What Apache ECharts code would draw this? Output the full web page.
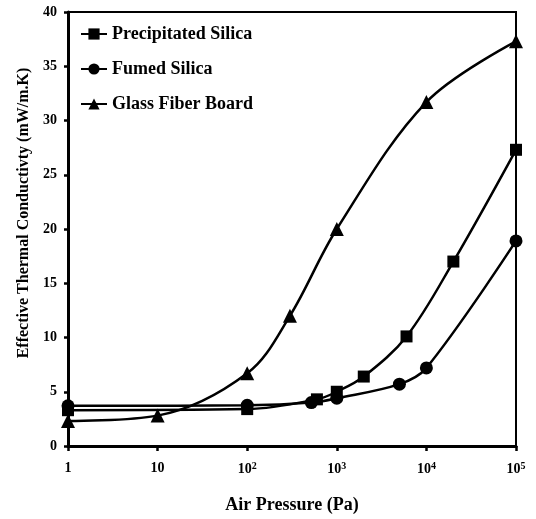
<!DOCTYPE html>
<html><head><meta charset="utf-8">
<script src="https://cdn.jsdelivr.net/npm/echarts@6/dist/echarts.min.js"></script>
<style>html,body{margin:0;padding:0;background:#fff}#c{width:536px;height:519px}</style>
</head><body><div id="c"></div>
<script>
const seriesNames = ['Precipitated Silica', 'Fumed Silica', 'Glass Fiber Board'];
const precipPressure = [1, 100, 600, 1000, 2000, 6000, 20000, 100000];
const precipK = [3.3, 3.4, 4.3, 5.0, 6.4, 10.1, 17.0, 27.3];
const fumedPressure = [1, 100, 520, 1000, 5000, 10000, 100000];
const fumedK = [3.7, 3.75, 4.0, 4.4, 5.7, 7.2, 18.9];
const glassPressure = [1, 10, 100, 300, 1000, 10000, 100000];
const glassK = [2.3, 2.8, 6.7, 12.0, 20.0, 31.7, 37.3];
const xTickBase = ['1', '10', '10', '10', '10', '10'];
const xTickExp = ['', '', '2', '3', '4', '5'];
const yTicks = [0, 5, 10, 15, 20, 25, 30, 35, 40];

const font = '"Liberation Serif", "Times New Roman", serif';
const zip = (xs, ys) => xs.map((x, i) => [x, ys[i]]);
const mk = (name, data, symbol, size) => ({
  name, type: 'line', data, symbol, symbolSize: size, smooth: 0.35,
  lineStyle: { color: '#000', width: 2.5 },
  itemStyle: { color: '#000' }
});

const chart = echarts.init(document.getElementById('c'));
chart.setOption({
  animation: false,
  backgroundColor: '#fff',
  grid: { left: 68, right: 20, top: 12, bottom: 73, show: true, borderColor: '#000', borderWidth: 2 },
  legend: {
    orient: 'vertical', left: 75, top: 20, itemGap: 17, itemWidth: 26, itemHeight: 14,
    textStyle: { fontFamily: font, fontWeight: 'bold', fontSize: 18, color: '#000' },
    data: seriesNames
  },
  xAxis: {
    type: 'log', logBase: 10, min: 1, max: 100000,
    name: 'Air Pressure (Pa)', nameLocation: 'middle', nameGap: 50,
    nameTextStyle: { fontFamily: font, fontWeight: 'bold', fontSize: 18, color: '#000' },
    axisLine: { lineStyle: { color: '#000', width: 3 } },
    axisTick: { lineStyle: { color: '#000', width: 2.5 }, length: 5 },
    axisLabel: {
      fontFamily: font, fontWeight: 'bold', fontSize: 14, color: '#000', margin: 15,
      formatter: v => {
        const i = Math.round(Math.log10(v));
        return xTickExp[i] ? xTickBase[i] + '{s|' + xTickExp[i] + '}' : xTickBase[i];
      },
      rich: { s: { fontFamily: font, fontWeight: 'bold', fontSize: 10, color: '#000', verticalAlign: 'top', padding: [0, 0, 6, 0] } }
    },
    splitLine: { show: false }, minorTick: { show: false }
  },
  yAxis: {
    type: 'value', min: yTicks[0], max: yTicks[yTicks.length - 1], interval: 5,
    name: 'Effective Thermal Conductivty (mW/m.K)', nameLocation: 'middle', nameGap: 34,
    nameTextStyle: { fontFamily: font, fontWeight: 'bold', fontSize: 16, color: '#000', padding: [0, 0, 0, 32] },
    axisLine: { show: true, lineStyle: { color: '#000', width: 3 } },
    axisTick: { show: true, lineStyle: { color: '#000', width: 2.5 }, length: 4 },
    axisLabel: { fontFamily: font, fontWeight: 'bold', fontSize: 14, color: '#000', margin: 11 },
    splitLine: { show: false }
  },
  series: [
    mk(seriesNames[0], zip(precipPressure, precipK), 'rect', 12),
    mk(seriesNames[1], zip(fumedPressure, fumedK), 'circle', 13),
    mk(seriesNames[2], zip(glassPressure, glassK), 'triangle', 14)
  ]
});
</script></body></html>
